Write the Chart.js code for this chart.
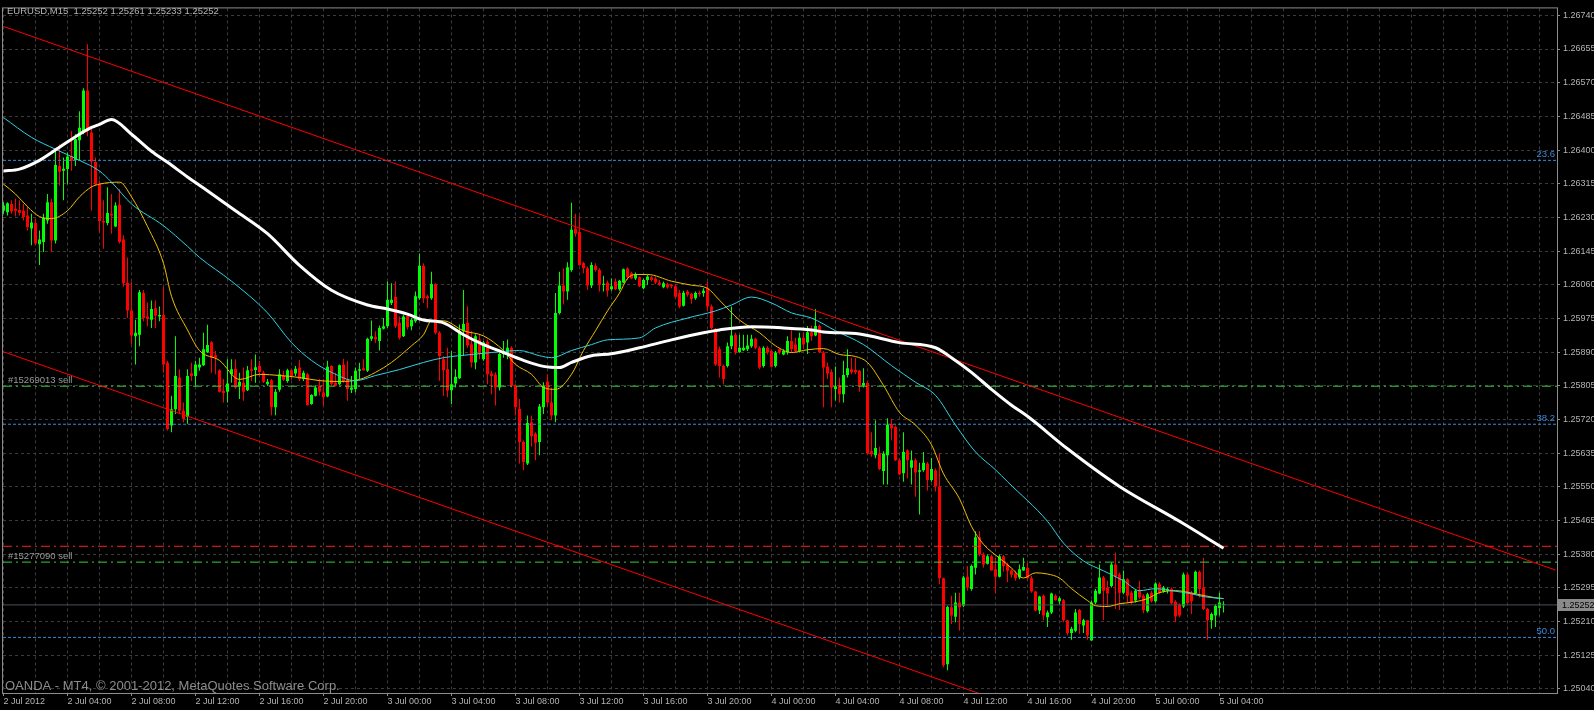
<!DOCTYPE html>
<html>
<head>
<meta charset="utf-8">
<script src="https://cdn.jsdelivr.net/npm/chart.js@4.4.0/dist/chart.umd.min.js"></script>
<style>
  html, body { margin: 0; padding: 0; background: #000; }
  #myChart { display: block; }
</style>
</head>
<body>
<canvas id="myChart" width="1594" height="710"></canvas>
<script>
// EURUSD M15, one entry per bar, 2 Jul 2012 00:00 -> 5 Jul 2012 04:15
var opens = [
  1.26247,1.26243,1.26264,1.26252,1.26249,1.26247,1.26235,1.26202,1.26216,1.26162,
  1.26168,1.26222,1.26268,1.26172,1.26360,1.26348,1.26352,1.26385,1.26374,1.26425,
  1.26448,1.26550,1.26444,1.26370,1.26314,1.26221,1.26216,1.26239,1.26207,1.26262,
  1.26174,1.26065,1.25995,1.25930,1.25934,1.26039,1.25980,1.25972,1.26001,1.25980,
  1.25984,1.25863,1.25705,1.25746,1.25826,1.25742,1.25726,1.25837,1.25830,1.25851,
  1.25857,1.25890,1.25915,1.25882,1.25844,1.25792,1.25790,1.25834,1.25848,1.25803,
  1.25813,1.25794,1.25847,1.25845,1.25855,1.25838,1.25809,1.25819,1.25751,1.25795,
  1.25830,1.25817,1.25844,1.25836,1.25851,1.25822,1.25834,1.25759,1.25780,1.25805,
  1.25788,1.25778,1.25855,1.25813,1.25809,1.25859,1.25822,1.25795,1.25797,1.25843,
  1.25849,1.25843,1.25924,1.25928,1.25918,1.25949,1.25955,1.26014,1.26030,1.25964,
  1.25930,1.25981,1.25955,1.25968,1.26026,1.26108,1.26031,1.26026,1.26062,1.25939,
  1.25872,1.25847,1.25794,1.25811,1.25824,1.25943,1.25964,1.25910,1.25864,1.25922,
  1.25872,1.25916,1.25836,1.25833,1.25801,1.25885,1.25885,1.25901,1.25805,1.25747,
  1.25663,1.25609,1.25713,1.25684,1.25663,1.25751,1.25816,1.25763,1.25730,1.25989,
  1.26058,1.26043,1.26097,1.26202,1.26193,1.26114,1.26102,1.26058,1.26108,1.26097,
  1.26060,1.26066,1.26049,1.26068,1.26049,1.26066,1.26101,1.26089,1.26076,1.26079,
  1.26051,1.26072,1.26079,1.26076,1.26066,1.26054,1.26061,1.26060,1.26056,1.26039,
  1.26007,1.26043,1.26037,1.26026,1.26039,1.26039,1.26051,1.26005,1.25949,1.25897,
  1.25855,1.25855,1.25905,1.25934,1.25890,1.25895,1.25897,1.25905,1.25924,1.25901,
  1.25855,1.25901,1.25893,1.25855,1.25897,1.25884,1.25889,1.25918,1.25909,1.25893,
  1.25926,1.25914,1.25940,1.25932,1.25956,1.25889,1.25854,1.25840,1.25797,1.25807,
  1.25784,1.25832,1.25847,1.25845,1.25843,1.25805,1.25812,1.25640,1.25630,1.25634,
  1.25590,1.25630,1.25708,1.25701,1.25617,1.25584,1.25642,1.25598,1.25617,1.25588,
  1.25592,1.25609,1.25567,1.25592,1.25551,1.25319,1.25102,1.25246,1.25222,1.25258,
  1.25250,1.25323,1.25292,1.25346,1.25423,1.25379,1.25356,1.25375,1.25342,1.25323,
  1.25375,1.25354,1.25339,1.25331,1.25321,1.25339,1.25346,1.25319,1.25286,1.25238,
  1.25275,1.25221,1.25233,1.25275,1.25261,1.25264,1.25213,1.25181,1.25187,1.25239,
  1.25200,1.25213,1.25162,1.25258,1.25281,1.25321,1.25296,1.25300,1.25354,1.25329,
  1.25283,1.25317,1.25283,1.25263,1.25288,1.25275,1.25236,1.25283,1.25261,1.25304,
  1.25286,1.25288,1.25292,1.25260,1.25253,1.25248,1.25329,1.25283,1.25281,1.25336,
  1.25296,1.25242,1.25213,1.25225,1.25244,1.25252
];
var highs = [
  1.26268,1.26268,1.26273,1.26277,1.26273,1.26264,1.26256,1.26239,1.26227,1.26197,
  1.26239,1.26289,1.26277,1.26398,1.26414,1.26381,1.26394,1.26448,1.26440,1.26498,
  1.26556,1.26667,1.26456,1.26381,1.26323,1.26273,1.26306,1.26289,1.26268,1.26302,
  1.26185,1.26129,1.26068,1.25972,1.26047,1.26047,1.26015,1.26020,1.26020,1.26005,
  1.26055,1.25868,1.25780,1.25930,1.25847,1.25763,1.25847,1.25863,1.25868,1.25876,
  1.25939,1.25959,1.25918,1.25893,1.25847,1.25822,1.25872,1.25872,1.25872,1.25838,
  1.25851,1.25855,1.25872,1.25884,1.25868,1.25843,1.25822,1.25822,1.25797,1.25847,
  1.25843,1.25848,1.25848,1.25855,1.25870,1.25843,1.25838,1.25784,1.25805,1.25822,
  1.25822,1.25868,1.25857,1.25838,1.25859,1.25873,1.25868,1.25830,1.25851,1.25863,
  1.25872,1.25926,1.25970,1.25943,1.25957,1.25976,1.26068,1.26064,1.26068,1.25980,
  1.25984,1.25985,1.25976,1.26043,1.26139,1.26114,1.26035,1.26093,1.26064,1.25943,
  1.25880,1.25901,1.25893,1.25847,1.25960,1.26047,1.26006,1.25943,1.25935,1.25935,
  1.25918,1.25922,1.25843,1.25839,1.25889,1.25918,1.25922,1.25905,1.25809,1.25772,
  1.25667,1.25730,1.25730,1.25688,1.25759,1.25814,1.25834,1.25801,1.26039,1.26093,
  1.26102,1.26117,1.26267,1.26239,1.26235,1.26118,1.26106,1.26117,1.26114,1.26102,
  1.26083,1.26071,1.26076,1.26076,1.26072,1.26101,1.26104,1.26093,1.26091,1.26081,
  1.26076,1.26085,1.26082,1.26081,1.26072,1.26068,1.26066,1.26062,1.26060,1.26047,
  1.26045,1.26047,1.26040,1.26043,1.26045,1.26051,1.26068,1.26010,1.25951,1.25904,
  1.25859,1.25914,1.26005,1.25939,1.25934,1.25934,1.25934,1.25934,1.25926,1.25905,
  1.25905,1.25905,1.25897,1.25893,1.25901,1.25897,1.25930,1.25951,1.25926,1.25939,
  1.25939,1.25956,1.25957,1.25999,1.25960,1.25893,1.25864,1.25847,1.25854,1.25826,
  1.25868,1.25897,1.25876,1.25876,1.25845,1.25849,1.25815,1.25688,1.25718,1.25651,
  1.25640,1.25723,1.25722,1.25705,1.25622,1.25688,1.25645,1.25642,1.25622,1.25611,
  1.25638,1.25613,1.25623,1.25596,1.25634,1.25321,1.25250,1.25275,1.25283,1.25283,
  1.25325,1.25350,1.25354,1.25438,1.25438,1.25384,1.25379,1.25379,1.25371,1.25379,
  1.25378,1.25359,1.25342,1.25338,1.25354,1.25371,1.25359,1.25325,1.25288,1.25275,
  1.25278,1.25238,1.25283,1.25279,1.25273,1.25267,1.25214,1.25197,1.25242,1.25242,
  1.25217,1.25214,1.25263,1.25292,1.25354,1.25325,1.25313,1.25359,1.25384,1.25334,
  1.25339,1.25319,1.25288,1.25292,1.25313,1.25279,1.25283,1.25288,1.25309,1.25309,
  1.25300,1.25296,1.25296,1.25264,1.25256,1.25334,1.25334,1.25288,1.25339,1.25339,
  1.25371,1.25244,1.25233,1.25254,1.25283,1.25261
];
var lows = [
  1.26239,1.26235,1.26239,1.26232,1.26235,1.26222,1.26197,1.26160,1.26160,1.26110,
  1.26143,1.26214,1.26143,1.26164,1.26310,1.26273,1.26314,1.26348,1.26360,1.26373,
  1.26440,1.26435,1.26247,1.26310,1.26193,1.26151,1.26210,1.26189,1.26206,1.26164,
  1.26055,1.25976,1.25909,1.25859,1.25905,1.25968,1.25955,1.25951,1.25951,1.25968,
  1.25838,1.25692,1.25688,1.25734,1.25734,1.25713,1.25709,1.25817,1.25805,1.25843,
  1.25855,1.25888,1.25838,1.25834,1.25788,1.25763,1.25763,1.25813,1.25797,1.25772,
  1.25767,1.25792,1.25817,1.25813,1.25830,1.25812,1.25805,1.25731,1.25731,1.25790,
  1.25817,1.25813,1.25820,1.25830,1.25817,1.25817,1.25755,1.25757,1.25778,1.25780,
  1.25755,1.25776,1.25805,1.25803,1.25807,1.25813,1.25767,1.25787,1.25788,1.25822,
  1.25843,1.25840,1.25918,1.25913,1.25894,1.25947,1.25951,1.26009,1.25951,1.25922,
  1.25928,1.25947,1.25945,1.25964,1.26022,1.26014,1.26001,1.26022,1.25935,1.25818,
  1.25780,1.25776,1.25759,1.25801,1.25822,1.25880,1.25901,1.25851,1.25847,1.25872,
  1.25868,1.25809,1.25784,1.25755,1.25793,1.25876,1.25872,1.25801,1.25730,1.25609,
  1.25592,1.25605,1.25651,1.25617,1.25630,1.25734,1.25751,1.25718,1.25713,1.25985,
  1.26010,1.26022,1.26093,1.26181,1.26108,1.26089,1.26047,1.26052,1.26093,1.26043,
  1.26043,1.26030,1.26045,1.26047,1.26045,1.26064,1.26072,1.26074,1.26072,1.26054,
  1.26049,1.26060,1.26068,1.26062,1.26057,1.26051,1.26050,1.26051,1.26026,1.26001,
  1.26005,1.26030,1.26012,1.26022,1.26030,1.26030,1.25993,1.25947,1.25855,1.25826,
  1.25809,1.25851,1.25897,1.25884,1.25889,1.25893,1.25893,1.25901,1.25897,1.25847,
  1.25851,1.25884,1.25851,1.25851,1.25884,1.25882,1.25884,1.25889,1.25889,1.25889,
  1.25897,1.25885,1.25918,1.25930,1.25887,1.25751,1.25822,1.25751,1.25768,1.25763,
  1.25763,1.25826,1.25834,1.25834,1.25790,1.25801,1.25632,1.25626,1.25622,1.25592,
  1.25556,1.25556,1.25667,1.25615,1.25580,1.25563,1.25571,1.25556,1.25525,1.25480,
  1.25588,1.25540,1.25563,1.25538,1.25304,1.25095,1.25087,1.25204,1.25208,1.25187,
  1.25246,1.25288,1.25288,1.25329,1.25375,1.25346,1.25354,1.25338,1.25281,1.25321,
  1.25336,1.25309,1.25321,1.25313,1.25317,1.25338,1.25317,1.25283,1.25236,1.25229,
  1.25213,1.25196,1.25229,1.25263,1.25254,1.25208,1.25175,1.25164,1.25183,1.25179,
  1.25181,1.25164,1.25162,1.25254,1.25279,1.25214,1.25246,1.25296,1.25242,1.25239,
  1.25279,1.25256,1.25254,1.25258,1.25267,1.25231,1.25233,1.25258,1.25258,1.25279,
  1.25283,1.25281,1.25254,1.25208,1.25221,1.25244,1.25254,1.25229,1.25278,1.25271,
  1.25239,1.25164,1.25192,1.25196,1.25225,1.25233
];
var closes = [
  1.26260,1.26266,1.26245,1.26247,1.26242,1.26231,1.26206,1.26217,1.26164,1.26174,
  1.26229,1.26268,1.26172,1.26362,1.26345,1.26353,1.26384,1.26373,1.26427,1.26456,
  1.26550,1.26448,1.26371,1.26314,1.26221,1.26217,1.26241,1.26235,1.26260,1.26168,
  1.26064,1.25995,1.25932,1.25939,1.26041,1.25976,1.25974,1.25999,1.25982,1.25984,
  1.25859,1.25696,1.25746,1.25830,1.25742,1.25721,1.25830,1.25830,1.25859,1.25859,
  1.25897,1.25908,1.25876,1.25876,1.25790,1.25787,1.25811,1.25847,1.25801,1.25815,
  1.25790,1.25844,1.25843,1.25852,1.25840,1.25815,1.25815,1.25751,1.25790,1.25834,
  1.25820,1.25844,1.25830,1.25848,1.25822,1.25838,1.25756,1.25782,1.25801,1.25790,
  1.25777,1.25853,1.25809,1.25805,1.25857,1.25816,1.25797,1.25801,1.25843,1.25847,
  1.25844,1.25924,1.25930,1.25922,1.25951,1.25955,1.26022,1.26022,1.25955,1.25926,
  1.25980,1.25953,1.25972,1.26031,1.26108,1.26026,1.26026,1.26062,1.25939,1.25880,
  1.25844,1.25793,1.25809,1.25828,1.25943,1.25961,1.25907,1.25864,1.25930,1.25885,
  1.25914,1.25834,1.25830,1.25801,1.25885,1.25893,1.25901,1.25805,1.25751,1.25663,
  1.25613,1.25711,1.25678,1.25661,1.25753,1.25805,1.25763,1.25730,1.25989,1.26058,
  1.26043,1.26104,1.26199,1.26189,1.26110,1.26102,1.26058,1.26110,1.26097,1.26060,
  1.26062,1.26045,1.26056,1.26049,1.26070,1.26099,1.26079,1.26076,1.26087,1.26056,
  1.26072,1.26081,1.26072,1.26066,1.26060,1.26064,1.26053,1.26056,1.26030,1.26005,
  1.26040,1.26035,1.26024,1.26039,1.26036,1.26045,1.26005,1.25951,1.25859,1.25855,
  1.25822,1.25905,1.25932,1.25889,1.25901,1.25901,1.25907,1.25924,1.25901,1.25851,
  1.25901,1.25889,1.25853,1.25889,1.25889,1.25893,1.25918,1.25897,1.25893,1.25926,
  1.25909,1.25940,1.25930,1.25956,1.25890,1.25851,1.25836,1.25801,1.25804,1.25784,
  1.25832,1.25849,1.25839,1.25839,1.25805,1.25812,1.25634,1.25632,1.25648,1.25595,
  1.25634,1.25707,1.25697,1.25617,1.25581,1.25638,1.25617,1.25617,1.25586,1.25592,
  1.25611,1.25567,1.25595,1.25551,1.25319,1.25100,1.25247,1.25225,1.25258,1.25246,
  1.25321,1.25296,1.25350,1.25423,1.25379,1.25354,1.25375,1.25339,1.25323,1.25375,
  1.25350,1.25338,1.25328,1.25319,1.25342,1.25348,1.25319,1.25286,1.25238,1.25273,
  1.25225,1.25233,1.25281,1.25264,1.25269,1.25213,1.25181,1.25192,1.25233,1.25204,
  1.25213,1.25175,1.25258,1.25288,1.25321,1.25288,1.25281,1.25354,1.25323,1.25283,
  1.25317,1.25275,1.25258,1.25288,1.25271,1.25239,1.25279,1.25261,1.25306,1.25283,
  1.25296,1.25292,1.25256,1.25223,1.25225,1.25329,1.25256,1.25261,1.25336,1.25292,
  1.25242,1.25213,1.25229,1.25250,1.25258,1.25252
];

// time axis labels, one every 16 bars (4 hours)
var timeLabels = ['2 Jul 2012', '2 Jul 04:00', '2 Jul 08:00', '2 Jul 12:00', '2 Jul 16:00', '2 Jul 20:00',
  '3 Jul 00:00', '3 Jul 04:00', '3 Jul 08:00', '3 Jul 12:00', '3 Jul 16:00', '3 Jul 20:00',
  '4 Jul 00:00', '4 Jul 04:00', '4 Jul 08:00', '4 Jul 12:00', '4 Jul 16:00', '4 Jul 20:00',
  '5 Jul 00:00', '5 Jul 04:00'];
var priceTicks = [1.26740, 1.26655, 1.26570, 1.26485, 1.26400, 1.26315, 1.26230, 1.26145, 1.26060,
  1.25975, 1.25890, 1.25805, 1.25720, 1.25635, 1.25550, 1.25465, 1.25380, 1.25295, 1.25210,
  1.25125, 1.25040];

// moving averages (bar index -> value)
var slowIdx = [0,4,9,14,19,22,24,27,32,37,41,46,50,58,66,74,82,91,96,101,105,110,115,120,125,130,
  135,139,142,147,152,159,167,175,179,187,195,202,205,214,224,233,237,242,247,252,256,266,279,294,305];
var slowMa = [1.26347,1.26352,1.26374,1.26407,1.26440,1.26457,1.26465,1.26477,1.26440,1.26397,
  1.26369,1.26332,1.26304,1.26247,1.26189,1.26109,1.26046,1.26009,1.25999,1.25986,
  1.25971,1.25964,1.25934,1.25909,1.25889,1.25869,1.25854,1.25851,1.25864,1.25881,
  1.25886,1.25901,1.25921,1.25939,1.25946,1.25954,1.25951,1.25946,1.25941,1.25936,
  1.25914,1.25901,1.25876,1.25839,1.25796,1.25756,1.25728,1.25646,1.25551,1.25463,1.25395];
var midIdx = [0,7,13,19,24,27,32,40,46,49,57,66,72,77,82,88,93,99,105,110,117,122,129,134,137,142,
  147,151,159,163,171,178,182,187,192,197,202,208,215,222,228,233,238,243,248,251,261,265,270,275,
  280,284,288,292,297,300,305];
var midMa = [1.26482,1.26432,1.26402,1.26374,1.26347,1.26319,1.26264,1.26209,1.26157,1.26129,
  1.26069,1.25989,1.25914,1.25869,1.25839,1.25818,1.25831,1.25846,1.25864,1.25876,
  1.25884,1.25889,1.25894,1.25881,1.25876,1.25894,1.25909,1.25921,1.25926,1.25951,
  1.25976,1.25994,1.26009,1.26029,1.26014,1.25989,1.25976,1.25944,1.25909,1.25856,
  1.25814,1.25781,1.25706,1.25638,1.25593,1.25563,1.25463,1.25408,1.25363,1.25338,
  1.25313,1.25288,1.25293,1.25288,1.25280,1.25273,1.25268];
var fastIdx = [0,3,6,9,12,16,19,22,24,29,32,36,40,42,46,49,54,59,64,69,74,79,84,89,93,97,102,105,
  107,110,115,120,125,128,132,135,138,142,145,148,151,154,156,158,161,167,172,176,179,184,189,193,
  197,201,205,209,213,216,220,224,228,232,235,239,242,245,249,252,255,258,261,264,267,271,273,276,
  279,283,286,289,293,298,303,305];
var fastMa = [1.26314,1.26289,1.26257,1.26232,1.26227,1.26247,1.26282,1.26307,1.26314,1.26319,
  1.26282,1.26207,1.26114,1.26031,1.25946,1.25894,1.25869,1.25821,1.25834,1.25831,
  1.25826,1.25818,1.25816,1.25821,1.25839,1.25864,1.25906,1.25934,1.25969,1.25969,
  1.25944,1.25931,1.25894,1.25859,1.25834,1.25801,1.25796,1.25834,1.25894,1.25944,
  1.25994,1.26039,1.26076,1.26086,1.26086,1.26069,1.26059,1.26051,1.26021,1.25971,
  1.25939,1.25906,1.25889,1.25896,1.25899,1.25884,1.25879,1.25864,1.25806,1.25738,
  1.25706,1.25656,1.25583,1.25520,1.25450,1.25405,1.25370,1.25345,1.25320,1.25333,
  1.25330,1.25320,1.25293,1.25263,1.25250,1.25248,1.25255,1.25260,1.25268,1.25283,
  1.25288,1.25280,1.25270,1.25268];

// objects on the chart
var fiboLevels = [1.26374, 1.25708, 1.25170];
var fiboNames = ['23.6', '38.2', '50.0'];
var orderLevels = [1.25804, 1.25360];
var orderNames = ['#15269013 sell', '#15277090 sell'];
var stopLevel = 1.25400;
var bidPrice = 1.25252;
var channelBars = [0, 388];
var channelTop = [1.26712, 1.25340];
var channelBottom = [1.25891, 1.24519];

var xMin = -0.125, xMax = 388.375;
var yMin = 1.250297, yMax = 1.267575;
var fontFamily = '"Liberation Sans", Arial, sans-serif';
var upColor = '#00ff00', downColor = '#ff0000';

function toPoints(idx, vals) {
    return idx.map(function (b, k) { return { x: b, y: vals[k] }; });
}
function hLine(price) {
    return [{ x: xMin, y: price }, { x: xMax, y: price }];
}

var candleColors = opens.map(function (o, i) { return closes[i] >= o ? upColor : downColor; });
var wickData = opens.map(function (o, i) { return { x: i, y: [lows[i], highs[i]] }; });
var bodyData = opens.map(function (o, i) { return { x: i, y: [o, closes[i]] }; });

var datasets = [];
datasets.push({
    type: 'bar', data: wickData, backgroundColor: candleColors, grouped: false,
    categoryPercentage: 1, barPercentage: 0.25, inflateAmount: 0, order: 20
});
datasets.push({
    type: 'bar', data: bodyData, backgroundColor: candleColors, grouped: false,
    categoryPercentage: 1, barPercentage: 0.75, minBarLength: 1, inflateAmount: 0, order: 19
});
fiboLevels.forEach(function (lv) {
    datasets.push({ type: 'line', data: hLine(lv), borderColor: '#3a8ad8', borderWidth: 1,
        borderDash: [3, 2], pointRadius: 0, order: 10 });
});
orderLevels.forEach(function (lv) {
    datasets.push({ type: 'line', data: hLine(lv), borderColor: '#3ccc3c', borderWidth: 1,
        borderDash: [9, 4, 2, 4], pointRadius: 0, order: 10 });
});
datasets.push({ type: 'line', data: hLine(stopLevel), borderColor: '#ff2020', borderWidth: 1,
    borderDash: [9, 4, 2, 4], pointRadius: 0, order: 10 });
datasets.push({ type: 'line', data: hLine(bidPrice), borderColor: '#4b5158', borderWidth: 1,
    pointRadius: 0, order: 10 });
datasets.push({ type: 'line', data: toPoints(channelBars, channelTop), borderColor: '#ff0000',
    borderWidth: 1, pointRadius: 0, order: 8 });
datasets.push({ type: 'line', data: toPoints(channelBars, channelBottom), borderColor: '#ff0000',
    borderWidth: 1, pointRadius: 0, order: 8 });
datasets.push({ type: 'line', data: toPoints(fastIdx, fastMa), borderColor: '#f0c000',
    borderWidth: 1, pointRadius: 0, cubicInterpolationMode: 'monotone', order: 3 });
datasets.push({ type: 'line', data: toPoints(midIdx, midMa), borderColor: '#2fd3e6',
    borderWidth: 1, pointRadius: 0, cubicInterpolationMode: 'monotone', order: 2 });
datasets.push({ type: 'line', data: toPoints(slowIdx, slowMa), borderColor: '#ffffff',
    borderWidth: 3, pointRadius: 0, cubicInterpolationMode: 'monotone', order: 1 });

var mtOverlay = {
    id: 'mtOverlay',
    beforeDraw: function (chart) {
        var c = chart.ctx;
        c.save();
        c.fillStyle = '#000';
        c.fillRect(0, 0, chart.width, chart.height);
        c.restore();
    },
    afterDraw: function (chart) {
        var c = chart.ctx, a = chart.chartArea, ys = chart.scales.y;
        var n = opens.length - 1;
        c.save();
        // frame
        c.strokeStyle = '#8c8c8c';
        c.lineWidth = 1;
        c.strokeRect(a.left - 0.5, a.top - 0.5, a.right - a.left + 1, a.bottom - a.top + 1);

        // title with last bar
        c.font = '9.5px ' + fontFamily;
        c.fillStyle = '#b4b4b4';
        c.textBaseline = 'middle';
        c.textAlign = 'left';
        var ohlc = [opens[n], highs[n], lows[n], closes[n]].map(function (v) { return v.toFixed(5); });
        c.fillText('EURUSD,M15  ' + ohlc.join(' '), 7, 11);

        // order labels
        c.textBaseline = 'bottom';
        c.fillStyle = '#9a9a9a';
        orderLevels.forEach(function (lv, k) {
            c.fillText(orderNames[k], 8, ys.getPixelForValue(lv) - 1);
        });

        // fibo labels
        c.textAlign = 'right';
        c.fillStyle = '#3a8ad8';
        fiboLevels.forEach(function (lv, k) {
            c.fillText(fiboNames[k], a.right - 2, ys.getPixelForValue(lv) - 1);
        });

        // copyright
        c.textAlign = 'left';
        c.textBaseline = 'middle';
        c.font = '13px ' + fontFamily;
        c.fillStyle = '#8c8c8c';
        c.fillText('OANDA - MT4, \u00a9 2001-2012, MetaQuotes Software Corp.', 5, 686);

        // bid price box
        var py = Math.round(ys.getPixelForValue(bidPrice));
        c.fillStyle = '#8a8a8a';
        c.fillRect(a.right + 1, py - 6, chart.width - a.right - 1, 12);
        c.fillStyle = '#000';
        c.font = '9px ' + fontFamily;
        c.fillText(bidPrice.toFixed(5), a.right + 5, py + 0.5);
        c.restore();
    }
};

var ctx = document.getElementById('myChart').getContext('2d');
var myChart = new Chart(ctx, {
    type: 'bar',
    data: { datasets: datasets },
    options: {
        responsive: false,
        animation: false,
        devicePixelRatio: 1,
        layout: { padding: { left: 3, top: 3, right: 0, bottom: 0 }, autoPadding: false },
        plugins: { legend: { display: false }, tooltip: { enabled: false } },
        scales: {
            x: {
                type: 'linear', min: xMin, max: xMax, offset: false, position: 'bottom',
                grid: {
                    color: '#3c3c3c', offset: false, tickLength: 3,
                    tickColor: function (c) {
                        return (c.tick && c.tick.value % 16 === 0 && c.tick.value <= 304) ? '#8c8c8c' : 'rgba(0,0,0,0)';
                    }
                },
                border: { display: false, dash: [3, 3] },
                ticks: {
                    color: '#b4b4b4', font: { family: fontFamily, size: 9 }, padding: 0,
                    align: 'start', maxRotation: 0, minRotation: 0, autoSkip: false,
                    callback: function (v) {
                        if (v % 16 !== 0) return '';
                        var k = v / 16;
                        return k < timeLabels.length ? timeLabels[k] : '';
                    }
                },
                afterBuildTicks: function (scale) {
                    var t = [];
                    for (var v = 0; v <= xMax; v += 8) t.push({ value: v });
                    scale.ticks = t;
                },
                afterFit: function (scale) { scale.height = 17; }
            },
            y: {
                type: 'linear', position: 'right', min: yMin, max: yMax, beginAtZero: false,
                grid: { color: '#3c3c3c', tickLength: 3, tickColor: '#8c8c8c' },
                border: { display: false, dash: [3, 3] },
                ticks: {
                    color: '#b4b4b4', font: { family: fontFamily, size: 9 }, padding: 3, autoSkip: false,
                    callback: function (v) { return Number(v).toFixed(5); }
                },
                afterBuildTicks: function (scale) {
                    scale.ticks = priceTicks.map(function (v) { return { value: v }; });
                },
                afterFit: function (scale) { scale.width = 37; }
            }
        }
    },
    plugins: [mtOverlay]
});
</script>
</body>
</html>
